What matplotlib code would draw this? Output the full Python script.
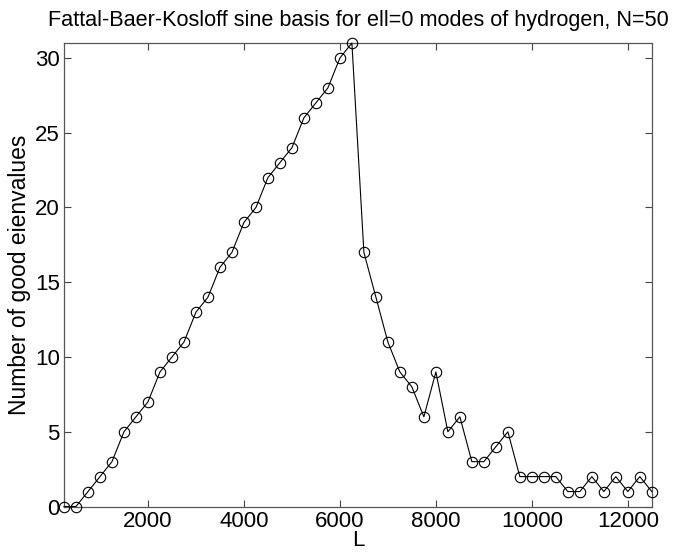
import matplotlib
matplotlib.use("Agg")
import matplotlib.pyplot as plt

plt.rcParams['font.family'] = ['Liberation Sans', 'DejaVu Sans']

L = [250 * (i + 1) for i in range(50)]
counts = [0, 0, 1, 2, 3, 5, 6, 7, 9, 10,
          11, 13, 14, 16, 17, 19, 20, 22, 23, 24,
          26, 27, 28, 30, 31, 17, 14, 11, 9, 8,
          6, 9, 5, 6, 3, 3, 4, 5, 2, 2,
          2, 2, 1, 1, 2, 1, 2, 1, 2, 1]
xticks = [2000, 4000, 6000, 8000, 10000, 12000]
yticks = [0, 5, 10, 15, 20, 25, 30]

fig = plt.figure(figsize=(6.94, 5.56), dpi=100)
ax = fig.add_axes([0.0922, 0.089, 0.847, 0.8336])
ax.plot(L, counts, color='black', linewidth=0.8, marker='o', markersize=7.5,
        markerfacecolor='none', markeredgecolor='black', markeredgewidth=0.8,
        clip_on=False, zorder=3)
ax.set_xlim(250, 12500)
ax.set_ylim(0, 31)
ax.set_xticks(xticks)
ax.set_yticks(yticks)
ax.tick_params(direction='in', top=True, right=True, labelsize=16, length=5,
               width=0.8, pad=3)
ax.tick_params(axis='both', colors='#444444', labelcolor='black')
for s in ax.spines.values():
    s.set_linewidth(0.9)
    s.set_color('#555555')
ax.set_xlabel('L', fontsize=16, labelpad=-1)
ax.set_ylabel('Number of good eienvalues', fontsize=16.5, labelpad=3)
ax.set_title('Fattal-Baer-Kosloff sine basis for ell=0 modes of hydrogen, N=50',
             fontsize=15.6, pad=12)
fig.savefig('out.png', dpi=100)
